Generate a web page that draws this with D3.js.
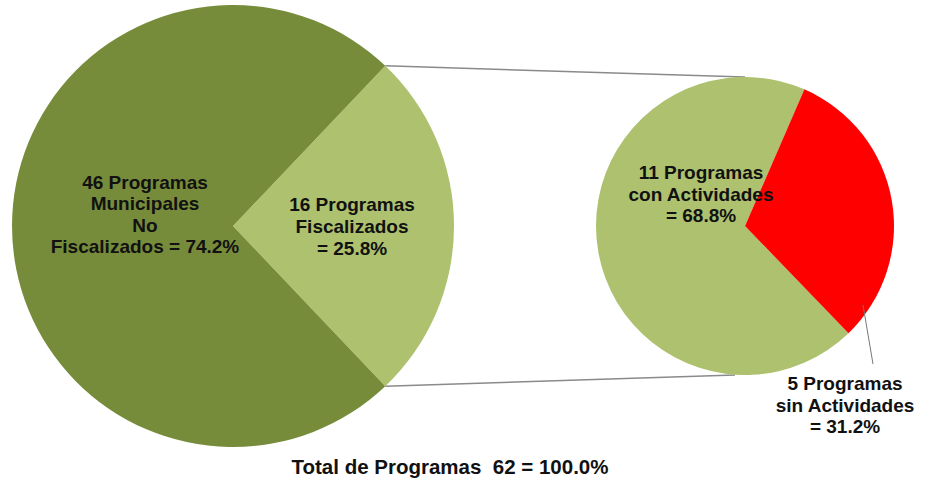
<!DOCTYPE html>
<html lang="es">
    <head>
        <meta charset="utf-8">
        <title>Programas Fiscalizados</title>
        <script src="https://d3js.org/d3.v7.min.js"></script>
        <style type="text/css">
            body { margin: 0; background: #fff; }
            text { font-family: "Liberation Sans", Arial, sans-serif; font-weight: bold; fill: #111; }
        </style>
    </head>
    <body>
        <svg width="927" height="483"></svg>
        <script type="text/javascript">

            // main pie: programas municipales
            const mainKeys = ["fiscalizados", "noFiscalizados"];
            const mainValues = [16, 46];
            const mainLabels = [
                ["16 Programas", "Fiscalizados", "= 25.8%"],
                ["46 Programas", "Municipales", "No", "Fiscalizados = 74.2%"]
            ];

            // second pie: the 16 fiscalizados split up
            const subKeys = ["conActividades", "sinActividades"];
            const subValues = [11, 5];
            const subLabels = [
                ["11 Programas", "con Actividades", "= 68.8%"],
                ["5 Programas", "sin Actividades", "= 31.2%"]
            ];

            const totalLabel = "Total de Programas  62 = 100.0%";

            const svg = d3.select("svg");
            const toRad = d => d * Math.PI / 180;

            const mainColor = d3.scaleOrdinal().domain(mainKeys).range(["#adc16e", "#778c3a"]);
            const subColor = d3.scaleOrdinal().domain(subKeys).range(["#adc16e", "#ff0000"]);

            const main = {cx: 233, cy: 226, r: 221};
            const sub = {cx: 745, cy: 226, r: 149};

            // light wedge centred on the right side (towards the second pie)
            const fiscAngle = 360 * mainValues[0] / d3.sum(mainValues);
            const mainPie = d3.pie().sort(null)
                .startAngle(toRad(90 - fiscAngle / 2))
                .endAngle(toRad(450 - fiscAngle / 2));

            // red wedge starts at about 24 degrees past 12 o'clock
            const conAngle = 360 * subValues[0] / d3.sum(subValues);
            const subPie = d3.pie().sort(null)
                .startAngle(toRad(23.5 - conAngle))
                .endAngle(toRad(383.5 - conAngle));

            const mainArc = d3.arc().innerRadius(0).outerRadius(main.r);
            const subArc = d3.arc().innerRadius(0).outerRadius(sub.r);

            const mainArcs = mainPie(mainValues);
            const subArcs = subPie(subValues);

            // connector lines from the light wedge to the top/bottom of the second pie
            const fisc = mainArcs[0];
            const pts = [fisc.startAngle, fisc.endAngle].map(a => [
                main.cx + main.r * Math.sin(a),
                main.cy - main.r * Math.cos(a)
            ]);
            svg.append("line")
               .attr("x1", pts[0][0]).attr("y1", pts[0][1])
               .attr("x2", sub.cx).attr("y2", sub.cy - sub.r)
               .attr("stroke", "#8a8a8a").attr("stroke-width", 1.5);
            svg.append("line")
               .attr("x1", pts[1][0]).attr("y1", pts[1][1])
               .attr("x2", sub.cx - 10).attr("y2", sub.cy + sub.r)
               .attr("stroke", "#8a8a8a").attr("stroke-width", 1.5);

            const gMain = svg.append("g").attr("transform", `translate(${main.cx},${main.cy})`);
            gMain.selectAll("path")
               .data(mainArcs)
               .enter()
               .append("path")
               .attr("d", mainArc)
               .style("fill", (d, i) => mainColor(mainKeys[i]));

            const gSub = svg.append("g").attr("transform", `translate(${sub.cx},${sub.cy})`);
            gSub.selectAll("path")
               .data(subArcs)
               .enter()
               .append("path")
               .attr("d", subArc)
               .style("fill", (d, i) => subColor(subKeys[i]));

            // leader line for the red slice
            svg.append("line")
               .attr("x1", 863).attr("y1", 305)
               .attr("x2", 873).attr("y2", 364)
               .attr("stroke", "#777").attr("stroke-width", 1);

            function label(lines, x, y, step, size) {
                const t = svg.append("text")
                    .attr("text-anchor", "middle")
                    .style("font-size", size + "px")
                    .style("white-space", "pre");
                lines.forEach((s, i) => {
                    t.append("tspan").attr("x", x).attr("y", y + i * step).text(s);
                });
            }

            label(mainLabels[1], 145, 189, 21.3, 19);
            label(mainLabels[0], 352, 211, 22, 19);
            label(subLabels[0], 701, 179, 21.5, 19);
            label(subLabels[1], 845, 390, 21.5, 19);
            label([totalLabel], 450, 474, 0, 20.5);

        </script>
    </body>
</html>
